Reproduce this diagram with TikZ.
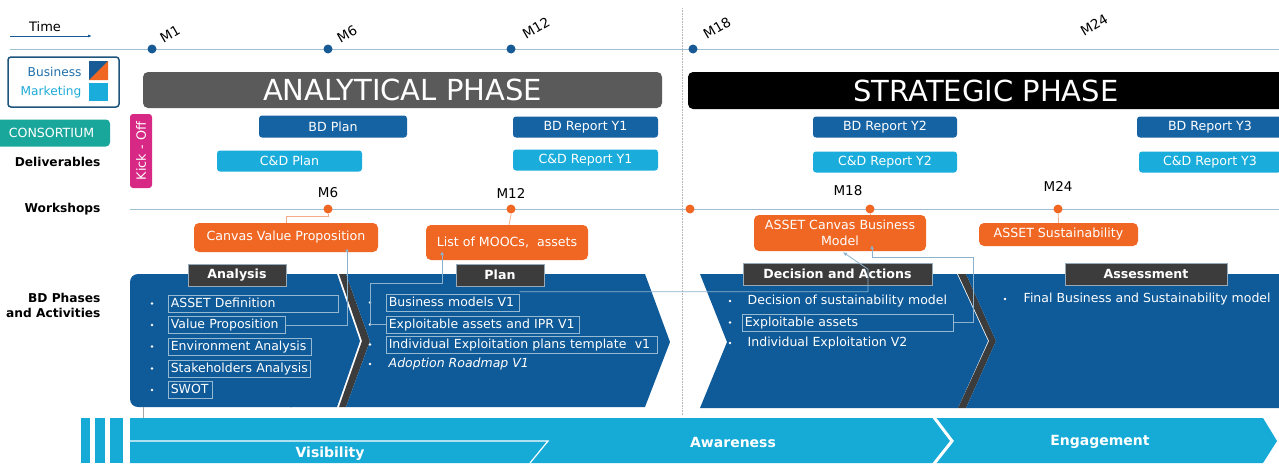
\documentclass[tikz,border=0pt]{standalone}
\usepackage{fontspec}
\setmainfont{DejaVu Sans}
\usetikzlibrary{arrows.meta}
\newcommand{\fsz}[1]{\fontsize{#1}{#1}\selectfont}
\definecolor{bdblue}{RGB}{15,90,152}
\definecolor{dlvdark}{RGB}{22,99,164}
\definecolor{cdcyan}{RGB}{26,173,219}
\definecolor{bandc}{RGB}{22,170,214}
\definecolor{orng}{RGB}{240,103,35}
\definecolor{phgrey}{RGB}{90,90,90}
\definecolor{tabgrey}{RGB}{60,60,60}
\definecolor{tabedge}{RGB}{150,170,185}
\definecolor{tealc}{RGB}{26,167,155}
\definecolor{magc}{RGB}{214,40,132}
\definecolor{tlc}{RGB}{160,190,210}
\definecolor{connc}{RGB}{140,178,205}
\definecolor{dotblue}{RGB}{24,90,150}
\definecolor{bmborder}{RGB}{30,85,125}
\definecolor{bustxt}{RGB}{30,110,170}
\definecolor{mkttxt}{RGB}{30,170,215}
\definecolor{boxln}{RGB}{150,185,210}
\begin{document}
\begin{tikzpicture}[x=1pt,y=-1pt,
  dlv/.style={rectangle, rounded corners=3, minimum height=21, text=white, font=\fsz{12.6}, inner sep=0},
  bd/.style={dlv, fill=dlvdark},
  cd/.style={dlv, fill=cdcyan},
  ora/.style={rectangle, rounded corners=5, fill=orng, text=white, font=\fsz{12.6}, inner sep=0, align=center},
  tabbox/.style={fill=tabgrey, draw=tabedge, line width=0.6, text=white, font=\bfseries\fsz{12.6}, minimum height=22, inner sep=0},
  itm/.style={anchor=west, text=white, font=\fsz{12.5}, inner xsep=2.5, inner ysep=0, minimum height=17, text height=9.5, text depth=2.5, align=left},
  itmbox/.style={itm, draw=boxln, line width=0.6},
  lbl/.style={font=\bfseries\fsz{12.2}, anchor=east, align=right},
  ml/.style={font=\fsz{13.5}},
  phase/.style={rounded corners=5, minimum height=36, inner sep=0, text=white, font=\fsz{29}},
  tdot/.style={circle, fill=dotblue, minimum size=9, inner sep=0},
  wdot/.style={circle, fill=orng, minimum size=9, inner sep=0},
  conn/.style={draw=connc, line width=0.8},
  oconn/.style={draw=orng!55, line width=0.8},
  tipa/.style={-{Latex[length=4pt,width=4pt]}},
  bandtxt/.style={text=white, font=\bfseries\fsz{14}},
  bulc/.style={fill=white}
]
\useasboundingbox (0,0) rectangle (1279,463);

% ---- time axis ----
\node[font=\fsz{13}] (time) at (45,27) {Time};
\draw[-{Latex[length=4pt,width=3pt]}, draw=dotblue, line width=0.8] (10,36) -- (92,36);
\draw[tlc, line width=1] (10,49) -- (1279,49);
\draw[gray!55, line width=0.6, densely dotted] (682,8) -- (682,416);
\node[tdot] (t1) at (152,49) {};
\node[tdot] (t6) at (328,49) {};
\node[tdot] (t12) at (511,49) {};
\node[tdot] (t18) at (693,49) {};
\node[ml, rotate=30] (lm1) at (170,34) {M1};
\node[ml, rotate=30] (lm6) at (347,34) {M6};
\node[ml, rotate=30] (lm12) at (536,28) {M12};
\node[ml, rotate=30] (lm18) at (717,28) {M18};
\node[ml, rotate=30] (lm24) at (1094,25) {M24};

% ---- legend ----
\node[draw=bmborder, line width=1.5, rounded corners=3, minimum width=111, minimum height=50, inner sep=0] (bm) at (63.5,82) {};
\node[anchor=east, text=bustxt, font=\fsz{12.2}] (bus) at (85,72) {Business};
\node[anchor=east, text=mkttxt, font=\fsz{12.2}] (mkt) at (85,92) {Marketing};
\fill[dotblue] (89,61) rectangle (108,80);
\fill[orng] (89,80) -- (108,80) -- (108,61) -- cycle;
\fill[cdcyan] (89,83) rectangle (108,101);
\node[fill=tealc, rounded corners=4, minimum width=120, minimum height=27, inner sep=0, text=white, font=\fsz{12.6}] (cons) at (50,133) {\hspace*{3pt}CONSORTIUM};

\node[lbl] (ldel) at (104,162) {Deliverables};
\node[lbl] (lws) at (104,209) {Workshops};
\node[lbl, font=\bfseries\fontsize{12.2}{15}\selectfont] (lbd) at (104,305.5) {BD Phases\\and Activities};

% ---- kick-off ----
\node[fill=magc, rounded corners=3, rotate=90, minimum width=74, minimum height=22, inner sep=0, text=white, font=\fsz{12.8}] (kick) at (141,151) {Kick - Off};

% ---- phase bars ----
\node[phase, fill=phgrey, minimum width=519] (apbar) at (402.5,90) {ANALYTICAL PHASE};
\node[phase, fill=black, minimum width=612, minimum height=37] (spbar) at (994,90.5) {};
\node[text=white, font=\fsz{29}] (sptxt) at (986,91) {STRATEGIC PHASE};

% ---- deliverables ----
\node[bd, minimum width=148, minimum height=22] (bdplan) at (333,126.5) {BD Plan};
\node[cd, minimum width=145] (cdplan) at (289.5,161) {C\&D Plan};
\node[bd, minimum width=145] (bdy1) at (585.5,127) {BD Report Y1};
\node[cd, minimum width=145] (cdy1) at (585.5,160) {C\&D Report Y1};
\node[bd, minimum width=144] (bdy2) at (885,127) {BD Report Y2};
\node[cd, minimum width=144] (cdy2) at (885,162) {C\&D Report Y2};
\node[bd, minimum width=146] (bdy3) at (1210,127) {BD Report Y3};
\node[cd, minimum width=142] (cdy3) at (1210,162) {C\&D Report Y3};

% ---- workshops ----
\draw[tlc, line width=1] (130,209) -- (1279,209);
\node[wdot] (ws6) at (328,209) {};
\node[wdot] (ws12) at (511,209) {};
\node[wdot] (wsa) at (690,209) {};
\node[wdot] (ws18) at (870,209) {};
\node[wdot] (ws24) at (1058,209) {};
\node[ml] (wm6) at (328,193) {M6};
\node[ml] (wm12) at (511,193) {M12};
\node[ml] (wm18) at (848,191) {M18};
\node[ml] (wm24) at (1058,186) {M24};

\node[ora, minimum width=184, minimum height=29] (cvp) at (286,237.5) {Canvas Value Proposition};
\node[ora, minimum width=162, minimum height=35] (mooc) at (507,242.5) {List of MOOCs,\ \ assets};
\node[ora, minimum width=172, minimum height=36] (acbm) at (840,233) {ASSET Canvas Business\\[3pt]Model};
\node[ora, minimum width=159, minimum height=23] (asus) at (1058.5,234.5) {ASSET Sustainability};

\draw[oconn] (ws6) -- ++(0,7) -| (cvp.north);
\draw[oconn] (ws12) -- ++(0,6) -- ([xshift=2pt]mooc.north);
\draw[oconn] (ws18) -- (acbm.north -| ws18);
\draw[oconn] (ws24) -- (asus.north);

% ---- BD phase blocks ----
\fill[bdblue, rounded corners=8] (130,274) rectangle (300,407);
\fill[bdblue] (290,274) -- (337,274) -- (360,341) -- (337,407) -- (290,407) -- cycle;
\fill[tabgrey] (339,274) -- (362,341) -- (339,407) -- (346,407) -- (370,341) -- (346,274) -- cycle;
\fill[bdblue] (346,274) -- (645,274) -- (670,342) -- (645,407) -- (346,407) -- (370,341) -- cycle;
\fill[bdblue] (700,274) -- (957,274) -- (988,341) -- (958,408) -- (700,408) -- (727,342) -- cycle;
\fill[tabgrey] (958,274) -- (989,341) -- (958,408) -- (966,408) -- (996,341) -- (966,274) -- cycle;
\fill[bdblue] (966,274) -- (1290,274) -- (1290,408) -- (966,408) -- (996,341) -- cycle;

\node[tabbox, minimum width=98] (tana) at (237,275) {Analysis};
\node[tabbox, minimum width=88] (tplan) at (500,275) {Plan};
\node[tabbox, minimum width=189] (tdec) at (837.5,274) {Decision and Actions};
\node[tabbox, minimum width=162] (tass) at (1146,274) {Assessment};

% Analysis items
\foreach \yy in {303.5,325,346.5,368.5,390} \fill[bulc] (152,\yy) circle (1.4);
\node[itmbox, text width=165] (a1) at (168,303.5) {ASSET Definition};
\node[itmbox, text width=112] (a2) at (168,325) {Value Proposition};
\node[itmbox, text width=138] (a3) at (168,346.5) {Environment Analysis};
\node[itmbox, text width=137] (a4) at (168,368.5) {Stakeholders Analysis};
\node[itmbox, text width=39] (a5) at (168,390) {SWOT};

% Plan items
\foreach \yy in {302.5,324.5,344.5,364} \fill[bulc] (370,\yy) circle (1.4);
\node[itmbox, text width=128] (p1) at (386,302.5) {Business models V1};
\node[itmbox, text width=188] (p2) at (386,324.5) {Exploitable assets and IPR V1};
\node[itmbox, text width=266] (p3) at (386,344.5) {Individual Exploitation plans template~ v1};
\node[itm, font=\itshape\fsz{12.5}] (p4) at (386,364) {Adoption Roadmap V1};

% Decision items
\foreach \yy in {301,322.5,343} \fill[bulc] (730,\yy) circle (1.4);
\node[itm] (d1) at (745,301) {Decision of sustainability model};
\node[itmbox, text width=206] (d2) at (742,322.5) {Exploitable assets};
\node[itm] (d3) at (745,343) {Individual Exploitation V2};

% Assessment items
\fill[bulc] (1005,299) circle (1.4);
\node[itm] (s1) at (1021,299) {Final Business and Sustainability model};

% ---- connectors ----
\draw[conn, -{Circle[length=3pt]}] (a2.east) -| ([xshift=61pt,yshift=3pt]cvp.south);
\draw[conn, tipa] (p2.west) -- ++(-16,0) |- ([xshift=-65pt,yshift=-23pt]mooc.south) -- ([xshift=-65pt,yshift=9pt]mooc.south);
\draw[conn, tipa] ([yshift=2pt]p1.north east) -| ([xshift=28pt,yshift=-18pt]acbm.south) -- ([xshift=3pt,yshift=-1pt]acbm.south);
\draw[conn, tipa] (d2.east) -- ++(20,0) |- ([xshift=32pt,yshift=-6pt]acbm.south) -- ([xshift=32pt,yshift=6pt]acbm.south);

% ---- bottom band ----
\draw[gray!70, line width=0.6] (143,407) -- (143,440);
\fill[bandc] (81,418) rectangle (90,463);
\fill[bandc] (95,418) rectangle (105,463);
\fill[bandc] (110,418) rectangle (123,463);
\fill[bandc] (130,418) -- (1263,418) -- (1277,441) -- (1263,463) -- (130,463) -- cycle;
\draw[white, line width=1.2] (130,441) -- (548,441) -- (530,463);
\draw[white, line width=3] (933,416) -- (952,441) -- (933,465);
\node[bandtxt] (vis) at (330,454) {Visibility};
\node[bandtxt] (aw) at (733,442) {Awareness};
\node[bandtxt] (eng) at (1100,442) {Engagement};
\end{tikzpicture}
\end{document}
